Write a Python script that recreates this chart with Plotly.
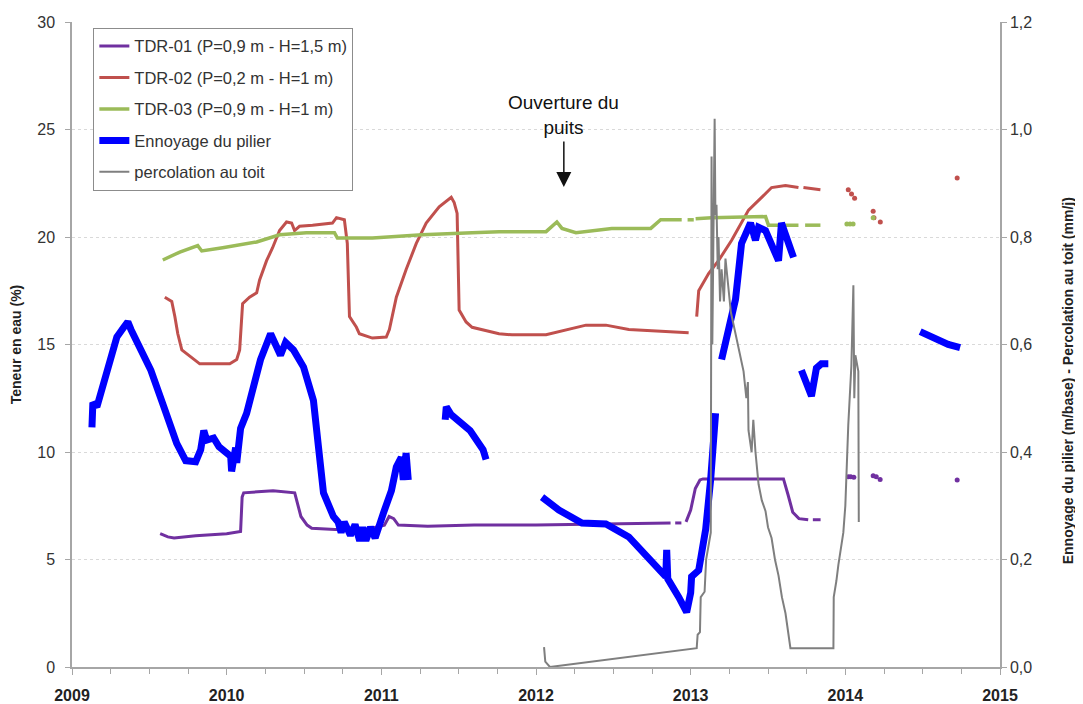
import plotly.graph_objects as go

# ---------------- data (decimal years) ----------------
# TDR-01 (%), None = gap
tdr01_x = [2009.57, 2009.62, 2009.66, 2009.8, 2010.0, 2010.09, 2010.1, 2010.11, 2010.2, 2010.3, 2010.44,
           2010.48, 2010.52, 2010.55, 2010.7, 2010.9, 2011.02, 2011.05, 2011.08, 2011.11, 2011.3, 2011.6,
           2012.0, 2012.5, 2012.87, None, 2012.9, 2012.94, None, 2012.97, 2013.0, 2013.03, 2013.06, 2013.08,
           2013.3, 2013.6, 2013.63, 2013.66, 2013.7, 2013.76, None, 2013.79, 2013.84]
tdr01_y = [6.2, 6.05, 6.0, 6.1, 6.2, 6.3, 7.9, 8.1, 8.15, 8.2, 8.1,
           7.0, 6.6, 6.45, 6.4, 6.4, 6.6, 7.0, 6.9, 6.6, 6.55, 6.6,
           6.6, 6.65, 6.7, None, 6.7, 6.7, None, 6.75, 7.3, 8.3, 8.7, 8.75,
           8.75, 8.75, 8.0, 7.2, 6.9, 6.85, None, 6.85, 6.85]
tdr01_dots_x = [2014.02, 2014.035, 2014.055, 2014.18, 2014.2, 2014.225, 2014.723]
tdr01_dots_y = [8.85, 8.85, 8.82, 8.9, 8.85, 8.72, 8.7]

# TDR-02 (%)
tdr02_x = [2009.6, 2009.645, 2009.665, 2009.684, 2009.71, 2009.774, 2009.826, 2010.02, 2010.065, 2010.084,
           2010.103, 2010.148, 2010.194, 2010.213, 2010.258, 2010.297, 2010.342, 2010.387, 2010.42, 2010.439,
           2010.471, 2010.555, 2010.684, 2010.71, 2010.761, 2010.78, 2010.794, 2010.839, 2010.858, 2010.942,
           2011.032, 2011.052, 2011.097, 2011.161, 2011.226, 2011.29, 2011.374, 2011.452, 2011.471, 2011.49,
           2011.503, 2011.548, 2011.587, 2011.761, 2011.845, 2012.065, 2012.323, 2012.452, 2012.6, 2012.987,
           None, 2013.039, 2013.052, 2013.116, 2013.18, 2013.265, 2013.374, 2013.439, 2013.523, 2013.613,
           2013.697, None, 2013.729, 2013.839]
tdr02_y = [17.2, 17.0, 16.3, 15.5, 14.75, 14.4, 14.1, 14.1, 14.3, 14.75,
           16.9, 17.2, 17.4, 18.0, 18.9, 19.5, 20.3, 20.7, 20.65, 20.3,
           20.5, 20.55, 20.65, 20.9, 20.8, 19.7, 16.3, 15.8, 15.5, 15.3,
           15.35, 15.7, 17.2, 18.5, 19.7, 20.65, 21.4, 21.85, 21.6, 21.1,
           16.6, 16.05, 15.8, 15.5, 15.45, 15.45, 15.9, 15.9, 15.7, 15.55,
           None, 16.3, 17.5, 18.3, 18.9, 19.85, 21.25, 21.7, 22.3, 22.4,
           22.3, None, 22.3, 22.2]
tdr02_dots_x = [2014.019, 2014.04, 2014.06, 2014.18, 2014.185, 2014.226, 2014.723]
tdr02_dots_y = [22.2, 22.0, 21.8, 21.2, 20.9, 20.7, 22.75]

# TDR-03 (%)
tdr03_x = [2009.587, 2009.697, 2009.813, 2009.839, 2009.974, 2010.194, 2010.342, 2010.516, 2010.697, 2010.716,
           2010.942, 2011.265, 2011.587, 2011.761, 2012.065, 2012.116, 2012.135, 2012.168, 2012.258, 2012.49,
           2012.742, 2012.806, 2012.942, None, 2012.98, 2013.02, None, 2013.032, 2013.135, 2013.484, 2013.503,
           2013.697, None, 2013.74, 2013.839]
tdr03_y = [18.93, 19.3, 19.6, 19.35, 19.5, 19.77, 20.1, 20.2, 20.2, 19.95,
           19.95, 20.1, 20.2, 20.25, 20.25, 20.55, 20.7, 20.4, 20.2, 20.4,
           20.4, 20.8, 20.8, None, 20.8, 20.8, None, 20.85, 20.9, 20.95, 20.55,
           20.55, None, 20.55, 20.55]
tdr03_dots_x = [2014.01, 2014.03, 2014.05, 2014.18]
tdr03_dots_y = [20.6, 20.6, 20.6, 20.9]

# Ennoyage du pilier (m/base)
ennoyage_x = [2009.129, 2009.135, 2009.161, 2009.187, 2009.206, 2009.252, 2009.29, 2009.335, 2009.361, 2009.381,
              2009.51, 2009.594, 2009.677, 2009.735, 2009.8, 2009.832, 2009.852, 2009.871, 2009.916, 2009.95,
              2009.981, 2010.026, 2010.032, 2010.058, 2010.065, 2010.09, 2010.129, 2010.174, 2010.219, 2010.284,
              2010.316, 2010.348, 2010.381, 2010.432, 2010.497, 2010.561, 2010.594, 2010.626, 2010.69, 2010.72,
              2010.74, 2010.76, 2010.8, 2010.83, 2010.86, 2010.88, 2010.9, 2010.93, 2010.96, 2010.98,
              2011.013, 2011.065, 2011.097, 2011.129, 2011.142, 2011.16, 2011.174,
              None, 2011.413, 2011.42, 2011.45, 2011.574, 2011.658, 2011.677,
              None, 2012.039, 2012.148, 2012.297, 2012.452, 2012.6, 2012.729, 2012.839, 2012.845, 2012.852,
              2012.923, 2012.974, 2013.0, 2013.006, 2013.052, 2013.097, 2013.129, 2013.148, 2013.161,
              None, 2013.2, 2013.29, 2013.329, 2013.355, 2013.387, 2013.419, 2013.439, 2013.484, 2013.535,
              2013.568, 2013.587, 2013.632, 2013.665,
              None, 2013.716, 2013.781, 2013.813, 2013.845, 2013.89,
              None, 2014.484, 2014.568, 2014.665, 2014.742]
ennoyage_y = [0.446, 0.492, 0.484, 0.51, 0.534, 0.572, 0.614, 0.632, 0.642, 0.628,
              0.552, 0.484, 0.416, 0.384, 0.382, 0.404, 0.44, 0.422, 0.426, 0.41,
              0.404, 0.392, 0.364, 0.408, 0.38, 0.444, 0.472, 0.528, 0.572, 0.62,
              0.602, 0.58, 0.604, 0.59, 0.558, 0.496, 0.408, 0.324, 0.28, 0.27,
              0.25, 0.27, 0.245, 0.265, 0.235, 0.26, 0.235, 0.26, 0.24, 0.262,
              0.286, 0.328, 0.372, 0.39, 0.348, 0.398, 0.348,
              None, 0.46, 0.484, 0.47, 0.44, 0.404, 0.386,
              None, 0.316, 0.292, 0.268, 0.266, 0.242, 0.204, 0.168, 0.218, 0.164,
              0.13, 0.102, 0.138, 0.168, 0.18, 0.256, 0.348, 0.44, 0.472,
              None, 0.572, 0.684, 0.788, 0.808, 0.826, 0.794, 0.818, 0.812, 0.782,
              0.756, 0.826, 0.794, 0.762,
              None, 0.552, 0.504, 0.556, 0.564, 0.564,
              None, 0.624, 0.612, 0.6, 0.594]

# Percolation au toit (mm/j)
percolation_x = [2012.052, 2012.06, 2012.09, 2013.039, 2013.045, 2013.06, 2013.065, 2013.09, 2013.1, 2013.12,
                 2013.13, 2013.135, 2013.14, 2013.155, 2013.16, 2013.167, 2013.175, 2013.18, 2013.19, 2013.2,
                 2013.215, 2013.225, 2013.24, 2013.26, 2013.29, 2013.32, 2013.342, 2013.36, 2013.37, 2013.374,
                 2013.394, 2013.405, 2013.419, 2013.439, 2013.46, 2013.484, 2013.5, 2013.523, 2013.545, 2013.568,
                 2013.59, 2013.613, 2013.63, 2013.645, 2013.923, 2013.925, 2013.942, 2013.955, 2013.987, 2014.0,
                 2014.019, 2014.039, 2014.052, 2014.058, 2014.065, 2014.084, 2014.087]
percolation_y = [0.037, 0.01, 0.0, 0.035, 0.06, 0.065, 0.13, 0.14, 0.2, 0.23,
                 0.25, 0.95, 0.6, 1.02, 0.84, 0.86, 0.74, 0.8, 0.68, 0.74,
                 0.68, 0.76, 0.72, 0.66, 0.62, 0.58, 0.55, 0.5, 0.53, 0.44,
                 0.4, 0.46, 0.4, 0.34, 0.31, 0.29, 0.26, 0.24, 0.2, 0.17,
                 0.13, 0.1, 0.06, 0.035, 0.035, 0.13, 0.16, 0.19, 0.25, 0.3,
                 0.45, 0.56, 0.71, 0.5, 0.58, 0.55, 0.27]

left_ticks = [0, 5, 10, 15, 20, 25, 30]
right_ticks = [0.0, 0.2, 0.4, 0.6, 0.8, 1.0, 1.2]
right_ticktext = ["0,0", "0,2", "0,4", "0,6", "0,8", "1,0", "1,2"]
year_ticks = [2009, 2010, 2011, 2012, 2013, 2014, 2015]

PURPLE = "#7030A0"
RED = "#C0504D"
GREEN = "#9BBB59"
BLUE = "#0000FF"
GRAY = "#7F7F7F"
FONT = "Liberation Sans, Arial, sans-serif"

fig = go.Figure()

def line(x, y, name, color, width, group, yaxis="y", show=True):
    fig.add_trace(go.Scatter(x=x, y=y, mode="lines", name=name, yaxis=yaxis,
                             line=dict(color=color, width=width), connectgaps=False,
                             legendgroup=group, showlegend=show))

def dots(x, y, color, group, size=5):
    fig.add_trace(go.Scatter(x=x, y=y, mode="markers", marker=dict(color=color, size=size),
                             legendgroup=group, showlegend=False))

line(tdr01_x, tdr01_y, "TDR-01 (P=0,9 m - H=1,5 m)", PURPLE, 3, "g1")
dots(tdr01_dots_x, tdr01_dots_y, PURPLE, "g1")
line(tdr02_x, tdr02_y, "TDR-02 (P=0,2 m - H=1 m)", RED, 3, "g2")
dots(tdr02_dots_x, tdr02_dots_y, RED, "g2")
line(tdr03_x, tdr03_y, "TDR-03 (P=0,9 m - H=1 m)", GREEN, 3.5, "g3")
dots(tdr03_dots_x, tdr03_dots_y, GREEN, "g3")
line(ennoyage_x, ennoyage_y, "Ennoyage du pilier", BLUE, 7, "g4", yaxis="y2")
line(percolation_x, percolation_y, "percolation au toit", GRAY, 2, "g5", yaxis="y2")

grid = dict(showgrid=True, gridcolor="#D9D9D9", griddash="3px,3px", gridwidth=1)

# the page body adds an 8 px offset, so the figure is 8 px smaller and margins are reduced by 8
fig.update_layout(
    width=1075, height=696,
    margin=dict(l=64, r=83, t=14, b=37),
    paper_bgcolor="white", plot_bgcolor="white",
    font=dict(family=FONT, size=16, color="#333333"),
    showlegend=True,
    legend=dict(x=0.023, y=0.991, xanchor="left", yanchor="top",
                bordercolor="#8C8C8C", borderwidth=1, bgcolor="white",
                font=dict(family=FONT, size=16.5, color="#333333"),
                tracegroupgap=7, traceorder="grouped"),
    xaxis=dict(range=[2009, 2015], tickvals=year_ticks, ticktext=[str(t) for t in year_ticks],
               ticks="outside", ticklen=6, tickcolor="#A6A6A6", showline=True, linecolor="#A6A6A6",
               linewidth=1.5, showgrid=False, zeroline=False, ticklabelstandoff=7, automargin=False,
               tickfont=dict(family=FONT, size=16, color="#222222", weight="bold"),
               minor=dict(dtick=0.25, tick0=2009, ticks="outside", ticklen=5, tickcolor="#A6A6A6",
                          showgrid=False)),
    yaxis=dict(range=[0, 30], tickvals=left_ticks, ticks="outside", ticklen=5, tickcolor="#A6A6A6",
               showline=True, linecolor="#A6A6A6", linewidth=1.5, zeroline=False, ticklabelstandoff=7,
               automargin=False,
               tickfont=dict(family=FONT, size=16, color="#333333"),
               title=dict(text="Teneur en eau (%)", standoff=20,
                          font=dict(family=FONT, size=14, color="#222222", weight="bold")),
               **grid),
    yaxis2=dict(range=[0, 1.2], overlaying="y", side="right", tickvals=right_ticks,
                ticktext=right_ticktext, ticks="outside", ticklen=5, tickcolor="#A6A6A6",
                showline=True, linecolor="#A6A6A6", linewidth=1.5, showgrid=False, zeroline=False,
                automargin=False,
                tickfont=dict(family=FONT, size=16, color="#333333")),
)

# right axis title (placed as in the original, slightly below centre)
fig.add_annotation(xref="paper", yref="paper", x=1.0733, y=0.443, xanchor="center", yanchor="middle",
                   text="Ennoyage du pilier (m/base) - Percolation au toit (mm/j)", textangle=-90,
                   showarrow=False, font=dict(family=FONT, size=14, color="#222222", weight="bold"))

# "Ouverture du puits" annotation and arrow
fig.add_annotation(x=2012.18, y=25.67, xref="x", yref="y", text="Ouverture du<br>puits",
                   showarrow=False, font=dict(family=FONT, size=19, color="#111111"),
                   xanchor="center", yanchor="middle")
fig.add_annotation(x=2012.18, y=22.33, xref="x", yref="y", text="", showarrow=True,
                   ax=0, ay=-47, arrowhead=2, arrowsize=2, arrowwidth=1.5, arrowcolor="#111111")

fig.write_html("out.html")
